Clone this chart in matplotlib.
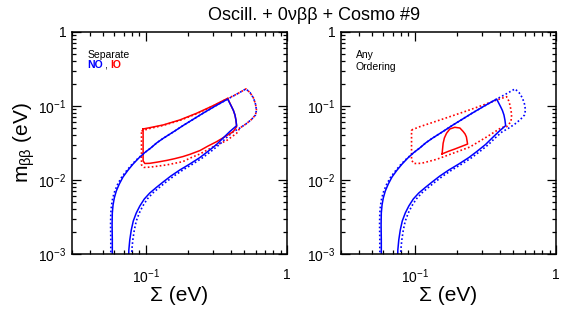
import matplotlib
matplotlib.use("Agg")
import matplotlib.pyplot as plt
from matplotlib.ticker import FixedLocator, FixedFormatter, LogLocator, NullFormatter

plt.rcParams["font.family"] = ["Liberation Sans", "DejaVu Sans"]
plt.rcParams["mathtext.fontset"] = "custom"
plt.rcParams["mathtext.rm"] = "Liberation Sans"
plt.rcParams["mathtext.it"] = "Liberation Sans:italic"

# ---- data (Sigma, m_bb in eV) ----
# normal ordering, solid (same in both panels)
no_solid_sum = [0.0579, 0.0579, 0.0577, 0.0579, 0.0586, 0.0598, 0.0618, 0.0649, 0.0690,
                0.0745, 0.0813, 0.0892, 0.0984, 0.1085, 0.1197, 0.1327, 0.1606, 0.1839,
                0.2109, 0.2548, 0.308, 0.380, 0.405, 0.4174, 0.428, 0.4348, 0.440,
                0.394, 0.3533, 0.3172, 0.2753, 0.2415, 0.2051, 0.1742, 0.1504, 0.1327,
                0.1187, 0.1067, 0.0976, 0.0907, 0.0856, 0.0815, 0.0789, 0.0770, 0.0758,
                0.0751]
no_solid_mbb = [0.0005, 0.00155, 0.00247, 0.00358, 0.00459, 0.00571, 0.00710, 0.00883,
                0.0110, 0.01344, 0.01645, 0.0198, 0.0235, 0.0271, 0.0318, 0.0365, 0.0460,
                0.0545, 0.0640, 0.0800, 0.0990, 0.124, 0.0979, 0.0869, 0.0755, 0.0647,
                0.0542, 0.0452, 0.0370, 0.0302, 0.0243, 0.0201, 0.01645, 0.01365, 0.0113,
                0.0094, 0.00792, 0.00667, 0.00554, 0.00445, 0.00358, 0.00279, 0.00211,
                0.00155, 0.00113, 0.0005]

# normal ordering, dotted
no_dot_sum = [0.0565, 0.0565, 0.0563, 0.0565, 0.0572, 0.0583, 0.0603, 0.0633, 0.0676,
              0.0733, 0.0802, 0.0885, 0.0984, 0.1085, 0.1197, 0.1327, 0.1606, 0.1839,
              0.2109, 0.2548, 0.308, 0.380, 0.442, 0.512, 0.5467, 0.5788, 0.5981, 0.6080,
              0.5981, 0.5600, 0.512, 0.464, 0.414, 0.371, 0.333, 0.289, 0.2537, 0.2154,
              0.183, 0.158, 0.1393, 0.1247, 0.1121, 0.1025, 0.0952, 0.0899, 0.0856,
              0.0829, 0.0809, 0.0796, 0.0789]
no_dot_mbb = [0.0005, 0.00155, 0.00247, 0.00358, 0.00459, 0.00571, 0.0071, 0.00883,
              0.0110, 0.01344, 0.01645, 0.0198, 0.0235, 0.0271, 0.0318, 0.0365, 0.0460,
              0.0545, 0.0640, 0.0800, 0.0990, 0.124, 0.145, 0.170, 0.1522, 0.1283,
              0.1064, 0.0883, 0.0755, 0.0657, 0.0571, 0.0504, 0.0445, 0.0370, 0.0302,
              0.0243, 0.0201, 0.01645, 0.01365, 0.0113, 0.0094, 0.00792, 0.00667,
              0.00554, 0.00445, 0.00358, 0.00279, 0.00211, 0.00155, 0.00113, 0.0005]

# inverted ordering, separate fit (left panel)
io_solid_sum = [0.0957, 0.1067, 0.1327, 0.174, 0.229, 0.300, 0.380, 0.405, 0.4174, 0.428,
                0.4348, 0.440, 0.416, 0.3533, 0.317, 0.2753, 0.242, 0.2051, 0.183, 0.160,
                0.141, 0.122, 0.1067, 0.0984, 0.0957, 0.0957]
io_solid_mbb = [0.0489, 0.0509, 0.0554, 0.0647, 0.0797, 0.101, 0.127, 0.0979, 0.0869,
                0.0755, 0.0647, 0.0525, 0.0450, 0.0372, 0.0329, 0.0287, 0.0250, 0.0222,
                0.0207, 0.0194, 0.0184, 0.0175, 0.0168, 0.0167, 0.0181, 0.0489]
io_dot_sum = [0.0932, 0.1067, 0.1327, 0.174, 0.229, 0.300, 0.380, 0.442, 0.512, 0.5467,
              0.5788, 0.5981, 0.6080, 0.5981, 0.5600, 0.512, 0.464, 0.440, 0.371, 0.317,
              0.2753, 0.242, 0.2051, 0.183, 0.160, 0.141, 0.122, 0.1067, 0.0968, 0.0932,
              0.0932]
io_dot_mbb = [0.0459, 0.0497, 0.0546, 0.0637, 0.0785, 0.100, 0.126, 0.145, 0.170, 0.1522,
              0.1283, 0.1064, 0.0883, 0.0755, 0.0657, 0.0571, 0.0504, 0.0428, 0.0338,
              0.0297, 0.0257, 0.0225, 0.0197, 0.0177, 0.0168, 0.0160, 0.0154, 0.0149,
              0.0148, 0.0160, 0.0459]

# inverted ordering, any ordering fit (right panel)
any_solid_sum = [0.156, 0.1575, 0.1587, 0.162, 0.1678, 0.177, 0.192, 0.2085, 0.220, 0.227,
                 0.232, 0.2365, 0.214, 0.192, 0.173, 0.156]
any_solid_mbb = [0.0225, 0.0270, 0.0313, 0.0370, 0.0428, 0.0489, 0.0515, 0.0504, 0.0452,
                 0.0418, 0.0381, 0.0306, 0.0284, 0.0262, 0.0244, 0.0225]
any_dot_sum = [0.0948, 0.1085, 0.1348, 0.177, 0.2326, 0.305, 0.380, 0.447, 0.462, 0.472,
               0.480, 0.485, 0.480, 0.447, 0.412, 0.3225, 0.2455, 0.187, 0.1425, 0.1116,
               0.0984, 0.0948, 0.0948]
any_dot_mbb = [0.0474, 0.0525, 0.0602, 0.0717, 0.0856, 0.103, 0.1205, 0.1336, 0.118,
               0.103, 0.088, 0.0755, 0.0614, 0.0525, 0.0512, 0.0381, 0.0279, 0.0230,
               0.0190, 0.0168, 0.0167, 0.0186, 0.0474]

x_ticks = [0.1, 1]
x_labels = ["$10^{-1}$", "1"]
y_ticks = [1e-3, 1e-2, 1e-1, 1]
y_labels = ["$10^{-3}$", "$10^{-2}$", "$10^{-1}$", "1"]

DOT = (0, (1, 1.4))


def setup_axes(ax):
    ax.set_xscale("log")
    ax.set_yscale("log")
    ax.set_xlim(0.03, 1)
    ax.set_ylim(1e-3, 1)
    ax.xaxis.set_major_locator(FixedLocator(x_ticks))
    ax.xaxis.set_major_formatter(FixedFormatter(x_labels))
    ax.yaxis.set_major_locator(FixedLocator(y_ticks))
    ax.yaxis.set_major_formatter(FixedFormatter(y_labels))
    ax.xaxis.set_minor_locator(LogLocator(base=10, subs=range(2, 10)))
    ax.yaxis.set_minor_locator(LogLocator(base=10, subs=range(2, 10)))
    ax.xaxis.set_minor_formatter(NullFormatter())
    ax.yaxis.set_minor_formatter(NullFormatter())
    ax.tick_params(which="both", direction="in", top=True, right=True,
                   labelsize=10, width=0.9, color="black")
    ax.tick_params(which="major", length=6.5, pad=4)
    ax.tick_params(which="minor", length=3.2)
    ax.tick_params(axis="x", which="major", pad=10)
    for s in ax.spines.values():
        s.set_linewidth(1.1)
    ax.set_xlabel("Σ (eV)", fontsize=15, labelpad=0)


fig = plt.figure(figsize=(5.82, 3.15), dpi=100)
ax1 = fig.add_axes([0.1237, 0.1937, 0.3694, 0.7048])
ax2 = fig.add_axes([0.5859, 0.1937, 0.3694, 0.7048])

for ax in (ax1, ax2):
    setup_axes(ax)

# left panel: separate orderings
ax1.plot(io_dot_sum, io_dot_mbb, color="red", ls=DOT, lw=1.2)
ax1.plot(no_dot_sum, no_dot_mbb, color="blue", ls=DOT, lw=1.2)
ax1.plot(io_solid_sum, io_solid_mbb, color="red", lw=1.1)
ax1.plot(no_solid_sum, no_solid_mbb, color="blue", lw=1.1)

# right panel: any ordering
ax2.plot(any_dot_sum, any_dot_mbb, color="red", ls=DOT, lw=1.2)
ax2.plot(no_dot_sum, no_dot_mbb, color="blue", ls=DOT, lw=1.2)
ax2.plot(any_solid_sum, any_solid_mbb, color="red", lw=1.1)
ax2.plot(no_solid_sum, no_solid_mbb, color="blue", lw=1.1)

ax1.set_ylabel(r"m$_{\mathrm{ββ}}$ (eV)", fontsize=15, labelpad=1)

ax1.text(0.073, 0.896, "Separate", transform=ax1.transAxes, fontsize=7.5,
         ha="left", va="center")
ax1.text(0.073, 0.850, "NO", transform=ax1.transAxes, fontsize=7.5,
         ha="left", va="center", color="blue", fontweight="bold")
ax1.text(0.148, 0.850, ",", transform=ax1.transAxes, fontsize=7.5,
         ha="left", va="center")
ax1.text(0.178, 0.850, "IO", transform=ax1.transAxes, fontsize=7.5,
         ha="left", va="center", color="red", fontweight="bold")

ax2.text(0.068, 0.896, "Any", transform=ax2.transAxes, fontsize=7.5,
         ha="left", va="center")
ax2.text(0.068, 0.844, "Ordering", transform=ax2.transAxes, fontsize=7.5,
         ha="left", va="center")

fig.text(0.54, 0.952, "Oscill. + 0νββ + Cosmo #9", fontsize=13, ha="center", va="center")

fig.savefig("out.png", dpi=100)
